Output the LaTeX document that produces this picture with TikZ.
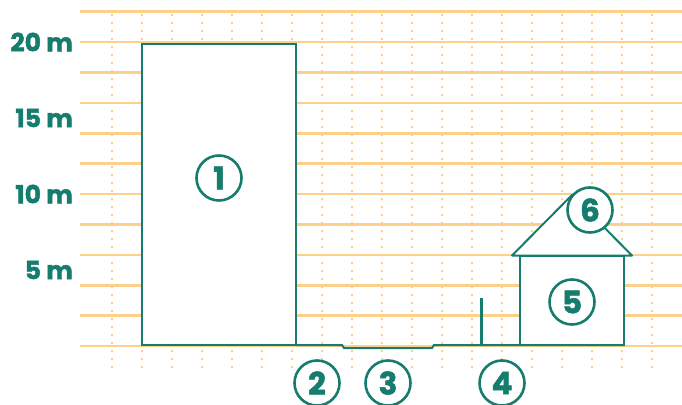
\documentclass[tikz,border=0pt]{standalone}
\usepackage{fontspec}
\setmainfont{Poppins}[BoldFont={* Bold}, BoldFeatures={FakeBold=1.6}]
\definecolor{teal1}{HTML}{167C6D}
\definecolor{grid1}{HTML}{FDD08A}
\tikzset{
  gridh/.style={grid1, line width=2.6pt},
  gridv/.style={grid1, line width=2pt, dash pattern=on 2pt off 6pt},
  shapeline/.style={teal1, line width=2pt, line join=miter},
  num/.style={circle, draw=teal1, line width=2.6pt, fill=white, minimum size=45pt, inner sep=0pt, text=teal1, font=\bfseries\fontsize{31}{31}\selectfont},
  scalelabel/.style={anchor=east, inner sep=0pt, text=teal1, font=\bfseries\fontsize{25}{25}\selectfont}
}
\begin{document}
\begin{tikzpicture}[x=1pt,y=-1pt]
\useasboundingbox (0,0) rectangle (682,404);
% horizontal grid lines every 2 m
\foreach \i in {0,...,11} {
  \draw[gridh] (80,{346-30.4*\i}) -- (682,{346-30.4*\i});
}
% vertical dotted lines
\foreach \i in {0,...,18} {
  \draw[gridv] ({112+30*\i},14) -- ({112+30*\i},374);
}
% scale labels
\node[scalelabel] (l20) at (73,42) {20 m};
\node[scalelabel] (l15) at (73,118) {15 m};
\node[scalelabel] (l10) at (73,194) {10 m};
\node[scalelabel] (l5) at (73,270) {5 m};
% building 1
\draw[shapeline, fill=white] (142,345) rectangle (296,44);
% ground line with dip
\draw[shapeline] (296,345) -- (342,345) -- (344,348) -- (432,348) -- (434,345) -- (624,345);
% item 4 pole
\draw[teal1, line width=3pt] (481,346) -- (481,298);
% house
\draw[shapeline, fill=white] (520,345) rectangle (624,256);
\draw[shapeline, fill=white, line join=round] (512,255.5) -- (632,255.5) -- (572,195) -- cycle;
% numbered circles
\node[num] (n1) at (219,178) {1};
\node[num] (n2) at (317,383) {2};
\node[num] (n3) at (388,383) {3};
\node[num] (n4) at (502,383) {4};
\node[num] (n5) at (572,302) {5};
\node[num] (n6) at (590,210) {6};
\end{tikzpicture}
\end{document}
